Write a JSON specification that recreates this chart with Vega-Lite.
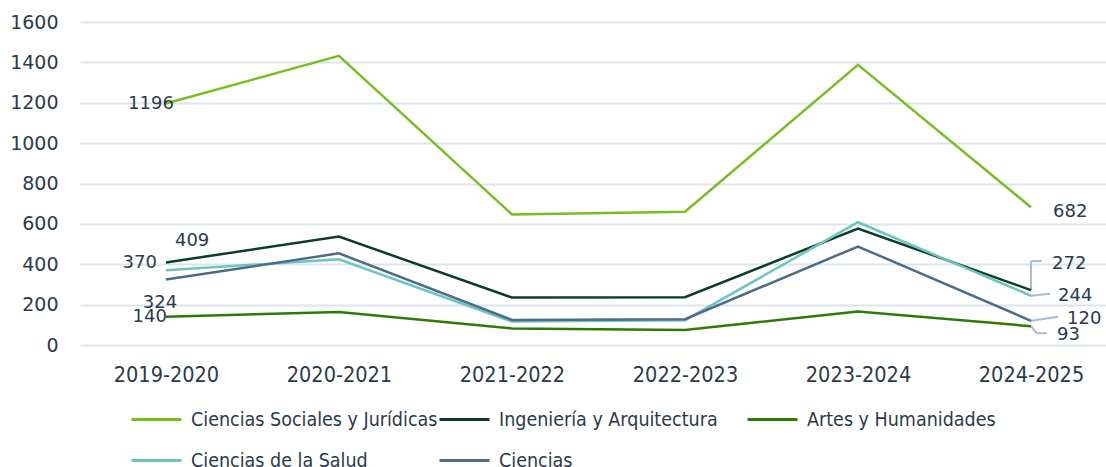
{
  "$schema": "https://vega.github.io/schema/vega-lite/v6.json",
  "width": 1026,
  "height": 323,
  "autosize": {"type": "none"},
  "padding": {"left": 80, "top": 22, "right": 0, "bottom": 122},
  "config": {
    "view": {"stroke": null},
    "font": "DejaVu Sans",
    "text": {"font": "DejaVu Sans", "fontSize": 18, "color": "#2B3A4A", "baseline": "middle"}
  },
  "data": {
    "values": [
      {"periodo": "2019-2020", "area": "Ciencias Sociales y Jurídicas", "valor": 1196},
      {"periodo": "2020-2021", "area": "Ciencias Sociales y Jurídicas", "valor": 1432},
      {"periodo": "2021-2022", "area": "Ciencias Sociales y Jurídicas", "valor": 647},
      {"periodo": "2022-2023", "area": "Ciencias Sociales y Jurídicas", "valor": 660},
      {"periodo": "2023-2024", "area": "Ciencias Sociales y Jurídicas", "valor": 1388},
      {"periodo": "2024-2025", "area": "Ciencias Sociales y Jurídicas", "valor": 682},
      {"periodo": "2019-2020", "area": "Ingeniería y Arquitectura", "valor": 409},
      {"periodo": "2020-2021", "area": "Ingeniería y Arquitectura", "valor": 537},
      {"periodo": "2021-2022", "area": "Ingeniería y Arquitectura", "valor": 235},
      {"periodo": "2022-2023", "area": "Ingeniería y Arquitectura", "valor": 237},
      {"periodo": "2023-2024", "area": "Ingeniería y Arquitectura", "valor": 577},
      {"periodo": "2024-2025", "area": "Ingeniería y Arquitectura", "valor": 272},
      {"periodo": "2019-2020", "area": "Artes y Humanidades", "valor": 140},
      {"periodo": "2020-2021", "area": "Artes y Humanidades", "valor": 163},
      {"periodo": "2021-2022", "area": "Artes y Humanidades", "valor": 82},
      {"periodo": "2022-2023", "area": "Artes y Humanidades", "valor": 74},
      {"periodo": "2023-2024", "area": "Artes y Humanidades", "valor": 166},
      {"periodo": "2024-2025", "area": "Artes y Humanidades", "valor": 93},
      {"periodo": "2019-2020", "area": "Ciencias de la Salud", "valor": 370},
      {"periodo": "2020-2021", "area": "Ciencias de la Salud", "valor": 425},
      {"periodo": "2021-2022", "area": "Ciencias de la Salud", "valor": 116},
      {"periodo": "2022-2023", "area": "Ciencias de la Salud", "valor": 123},
      {"periodo": "2023-2024", "area": "Ciencias de la Salud", "valor": 608},
      {"periodo": "2024-2025", "area": "Ciencias de la Salud", "valor": 244},
      {"periodo": "2019-2020", "area": "Ciencias", "valor": 324},
      {"periodo": "2020-2021", "area": "Ciencias", "valor": 454},
      {"periodo": "2021-2022", "area": "Ciencias", "valor": 124},
      {"periodo": "2022-2023", "area": "Ciencias", "valor": 128},
      {"periodo": "2023-2024", "area": "Ciencias", "valor": 488},
      {"periodo": "2024-2025", "area": "Ciencias", "valor": 120}
    ]
  },
  "encoding": {
    "x": {
      "field": "periodo", "type": "ordinal",
      "scale": {"type": "point", "padding": 0.465, "align": 0.534},
      "axis": {"title": null, "domain": false, "ticks": false, "labelAngle": 0, "labelPadding": 19,
               "labelFont": "DejaVu Sans Condensed", "labelFontSize": 21.5, "labelColor": "#2B3A4A"}
    },
    "y": {
      "field": "valor", "type": "quantitative",
      "scale": {"domain": [0, 1600], "nice": false},
      "axis": {"title": null, "domain": false, "ticks": false, "values": [0, 200, 400, 600, 800, 1000, 1200, 1400, 1600],
               "format": "d",
               "labelPadding": 22, "labelFontSize": 19, "labelColor": "#2B3A4A",
               "gridColor": "#DCE4EC", "gridWidth": 2}
    }
  },
  "layer": [
    {
      "mark": {"type": "rule", "color": "#A9BDD0", "strokeWidth": 2, "y2Offset": -29},
      "transform": [{"filter": "datum.periodo == '2024-2025' && datum.area == 'Ingeniería y Arquitectura'"}],
      "encoding": {"y2": {"field": "valor"}}
    },
    {
      "mark": {"type": "rule", "color": "#A9BDD0", "strokeWidth": 2, "yOffset": -29, "y2Offset": -29, "x2Offset": 11},
      "transform": [{"filter": "datum.periodo == '2024-2025' && datum.area == 'Ingeniería y Arquitectura'"}],
      "encoding": {"x2": {"field": "periodo"}, "y2": {"field": "valor"}}
    },
    {
      "mark": {"type": "rule", "color": "#A9BDD0", "strokeWidth": 2, "y2Offset": -2, "x2Offset": 19},
      "transform": [{"filter": "datum.periodo == '2024-2025' && datum.area == 'Ciencias de la Salud'"}],
      "encoding": {"x2": {"field": "periodo"}, "y2": {"field": "valor"}}
    },
    {
      "mark": {"type": "rule", "color": "#A9BDD0", "strokeWidth": 2, "y2Offset": -4, "x2Offset": 27},
      "transform": [{"filter": "datum.periodo == '2024-2025' && datum.area == 'Ciencias'"}],
      "encoding": {"x2": {"field": "periodo"}, "y2": {"field": "valor"}}
    },
    {
      "mark": {"type": "rule", "color": "#A9BDD0", "strokeWidth": 2, "y2Offset": 7, "x2Offset": 6},
      "transform": [{"filter": "datum.periodo == '2024-2025' && datum.area == 'Artes y Humanidades'"}],
      "encoding": {"x2": {"field": "periodo"}, "y2": {"field": "valor"}}
    },
    {
      "mark": {"type": "rule", "color": "#A9BDD0", "strokeWidth": 2, "yOffset": 7, "y2Offset": 7, "xOffset": 6, "x2Offset": 16},
      "transform": [{"filter": "datum.periodo == '2024-2025' && datum.area == 'Artes y Humanidades'"}],
      "encoding": {"x2": {"field": "periodo"}, "y2": {"field": "valor"}}
    },
    {
      "mark": {"type": "line", "strokeWidth": 2.5},
      "encoding": {
        "color": {
          "field": "area", "type": "nominal",
          "scale": {
            "domain": ["Ciencias Sociales y Jurídicas", "Ingeniería y Arquitectura", "Artes y Humanidades", "Ciencias de la Salud", "Ciencias"],
            "range": ["#78BE21", "#0B3B2C", "#2E7A06", "#6CC6BF", "#4C6B86"]
          },
          "legend": {
            "title": null, "orient": "none", "legendX": 50, "legendY": 371,
            "direction": "horizontal", "columns": 3, "gridAlign": "all",
            "columnPadding": -6, "rowPadding": 5,
            "symbolType": "stroke", "symbolSize": 2500, "symbolStrokeWidth": 3,
            "labelFont": "DejaVu Sans Condensed", "labelFontSize": 19.5, "labelColor": "#2B3A4A",
            "labelOffset": 8, "labelLimit": 400
          }
        }
      }
    },
    {
      "mark": {"type": "text", "align": "right", "dx": 8, "dy": 0},
      "transform": [{"filter": "datum.periodo == '2019-2020' && datum.area == 'Ciencias Sociales y Jurídicas'"}],
      "encoding": {"text": {"field": "valor", "type": "quantitative", "format": "d"}}
    },
    {
      "mark": {"type": "text", "align": "left", "dx": 9, "dy": -21},
      "transform": [{"filter": "datum.periodo == '2019-2020' && datum.area == 'Ingeniería y Arquitectura'"}],
      "encoding": {"text": {"field": "valor", "type": "quantitative", "format": "d"}}
    },
    {
      "mark": {"type": "text", "align": "right", "dx": -9, "dy": -7},
      "transform": [{"filter": "datum.periodo == '2019-2020' && datum.area == 'Ciencias de la Salud'"}],
      "encoding": {"text": {"field": "valor", "type": "quantitative", "format": "d"}}
    },
    {
      "mark": {"type": "text", "align": "center", "dx": -6, "dy": 23},
      "transform": [{"filter": "datum.periodo == '2019-2020' && datum.area == 'Ciencias'"}],
      "encoding": {"text": {"field": "valor", "type": "quantitative", "format": "d"}}
    },
    {
      "mark": {"type": "text", "align": "right", "dx": 1, "dy": 0},
      "transform": [{"filter": "datum.periodo == '2019-2020' && datum.area == 'Artes y Humanidades'"}],
      "encoding": {"text": {"field": "valor", "type": "quantitative", "format": "d"}}
    },
    {
      "mark": {"type": "text", "align": "left", "dx": 22, "dy": 5},
      "transform": [{"filter": "datum.periodo == '2024-2025' && datum.area == 'Ciencias Sociales y Jurídicas'"}],
      "encoding": {"text": {"field": "valor", "type": "quantitative", "format": "d"}}
    },
    {
      "mark": {"type": "text", "align": "left", "dx": 21, "dy": -26},
      "transform": [{"filter": "datum.periodo == '2024-2025' && datum.area == 'Ingeniería y Arquitectura'"}],
      "encoding": {"text": {"field": "valor", "type": "quantitative", "format": "d"}}
    },
    {
      "mark": {"type": "text", "align": "left", "dx": 27, "dy": 0},
      "transform": [{"filter": "datum.periodo == '2024-2025' && datum.area == 'Ciencias de la Salud'"}],
      "encoding": {"text": {"field": "valor", "type": "quantitative", "format": "d"}}
    },
    {
      "mark": {"type": "text", "align": "left", "dx": 36, "dy": -2},
      "transform": [{"filter": "datum.periodo == '2024-2025' && datum.area == 'Ciencias'"}],
      "encoding": {"text": {"field": "valor", "type": "quantitative", "format": "d"}}
    },
    {
      "mark": {"type": "text", "align": "left", "dx": 26, "dy": 9},
      "transform": [{"filter": "datum.periodo == '2024-2025' && datum.area == 'Artes y Humanidades'"}],
      "encoding": {"text": {"field": "valor", "type": "quantitative", "format": "d"}}
    }
  ]
}
